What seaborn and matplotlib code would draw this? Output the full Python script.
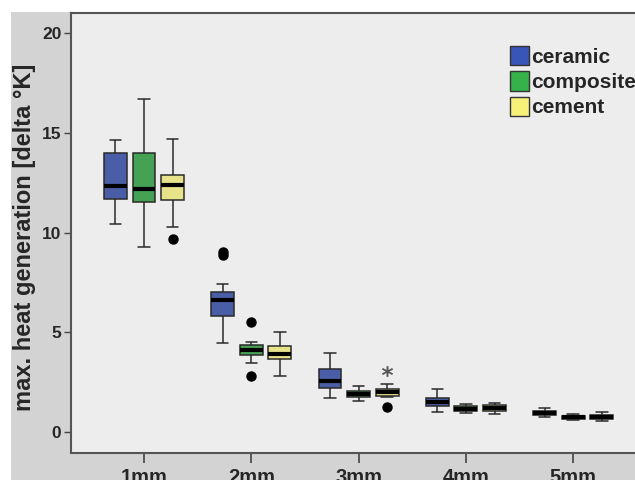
# grouped box plot: max. heat generation by layer thickness and material

import pandas as pd
import matplotlib.pyplot as plt
from matplotlib.patches import Patch, Rectangle
import seaborn as sns

# categories
sizes = ["1mm", "2mm", "3mm", "4mm", "5mm"]
materials = ["ceramic", "composite", "cement"]
colors = ["#3a55b8", "#35b24a", "#f7f17a"]

# box statistics (per size)
ceramic_low = [10.44, 4.48, 1.70, 1.02, 0.75]
ceramic_q1 = [11.66, 5.83, 2.22, 1.30, 0.85]
ceramic_med = [12.35, 6.62, 2.56, 1.52, 0.97]
ceramic_q3 = [13.97, 7.00, 3.14, 1.72, 1.07]
ceramic_high = [14.64, 7.40, 3.94, 2.16, 1.19]

composite_low = [9.29, 3.47, 1.55, 0.97, 0.59]
composite_q1 = [11.51, 3.86, 1.74, 1.05, 0.67]
composite_med = [12.20, 4.11, 1.90, 1.17, 0.74]
composite_q3 = [13.97, 4.36, 2.07, 1.29, 0.82]
composite_high = [16.69, 4.53, 2.32, 1.39, 0.90]

cement_low = [10.29, 2.79, 1.75, 0.92, 0.54]
cement_q1 = [11.61, 3.64, 1.82, 1.04, 0.64]
cement_med = [12.40, 3.91, 1.99, 1.19, 0.74]
cement_q3 = [12.88, 4.33, 2.14, 1.34, 0.85]
cement_high = [14.67, 5.03, 2.41, 1.44, 0.99]

# outliers (circles) and extremes (stars)
outlier_size = ["1mm", "2mm", "2mm", "2mm", "2mm", "3mm"]
outlier_material = ["cement", "ceramic", "ceramic", "composite", "composite", "cement"]
outlier_value = [9.66, 8.88, 9.00, 5.50, 2.81, 1.24]

extreme_size = ["3mm"]
extreme_material = ["cement"]
extreme_value = [3.07]

stats = {
    "ceramic": (ceramic_low, ceramic_q1, ceramic_med, ceramic_q3, ceramic_high),
    "composite": (composite_low, composite_q1, composite_med, composite_q3, composite_high),
    "cement": (cement_low, cement_q1, cement_med, cement_q3, cement_high),
}

# build a long table whose quartiles reproduce the read statistics
rows = []
for mat in materials:
    lo, q1, med, q3, hi = stats[mat]
    for i, s in enumerate(sizes):
        vals = [lo[i]] + [q1[i]] * 6 + [med[i]] * 5 + [q3[i]] * 6 + [hi[i]]
        vals += [v for v, os_, om in zip(outlier_value, outlier_size, outlier_material)
                 if os_ == s and om == mat]
        rows += [(s, mat, v) for v in vals]
df = pd.DataFrame(rows, columns=["size", "material", "value"])
df_ext = pd.DataFrame({"size": extreme_size, "material": extreme_material, "value": extreme_value})

sns.set_style("ticks")
plt.rcParams["font.family"] = ["Liberation Sans", "DejaVu Sans"]
plt.rcParams["font.weight"] = "bold"

fig = plt.figure(figsize=(6.35, 4.8), dpi=100)
fig.patches.append(Rectangle((11 / 635, 0), 1, 1 - 12 / 480, transform=fig.transFigure,
                             facecolor="#d3d3d3", edgecolor="none", zorder=-10))
ax = fig.add_axes([71 / 635, 27 / 480, 1 - 71 / 635, 440 / 480])
ax.set_facecolor("#ededed")

sns.boxplot(data=df, x="size", y="value", hue="material", order=sizes, hue_order=materials,
            palette=colors, width=0.8, gap=0.2, linewidth=1.1, linecolor="#2a2a2a",
            medianprops=dict(color="black", linewidth=3.0),
            flierprops=dict(marker="o", markerfacecolor="black", markeredgecolor="black",
                            markersize=6.5),
            legend=False, ax=ax)
sns.stripplot(data=df_ext, x="size", y="value", hue="material", order=sizes, hue_order=materials,
              palette=["#555555"] * 3, dodge=True, jitter=False, marker="$*$", size=8,
              legend=False, ax=ax)

ax.set_xlim(-0.68, 4.576)
ax.set_ylim(-1.05, 21.0)
ax.set_yticks([0, 5, 10, 15, 20])
ax.set_xlabel("")
ax.set_ylabel("max. heat generation [delta °K]", fontsize=17, fontweight="bold")
ax.yaxis.set_label_coords(-0.062, 0.49)
ax.tick_params(axis="y", labelsize=12.5, length=5, width=1, color="#444444", pad=2)
ax.tick_params(axis="x", labelsize=14.5, length=7, width=1.2, color="#444444", pad=4)
for side in ["left", "top", "bottom"]:
    ax.spines[side].set_color("#555555")
    ax.spines[side].set_linewidth(1.5)
ax.spines["right"].set_visible(False)

handles = [Patch(facecolor=c, edgecolor="#333333", linewidth=1) for c in colors]
fig.legend(handles, materials, loc="upper left", bbox_to_anchor=(510 / 635, 1 - 46 / 480),
           frameon=False, handlelength=0.9, handleheight=1.05,
           handletextpad=0.12, labelspacing=0.22, borderaxespad=0, borderpad=0,
           prop={"weight": "bold", "size": 15})

fig.savefig("out.png", dpi=100)
